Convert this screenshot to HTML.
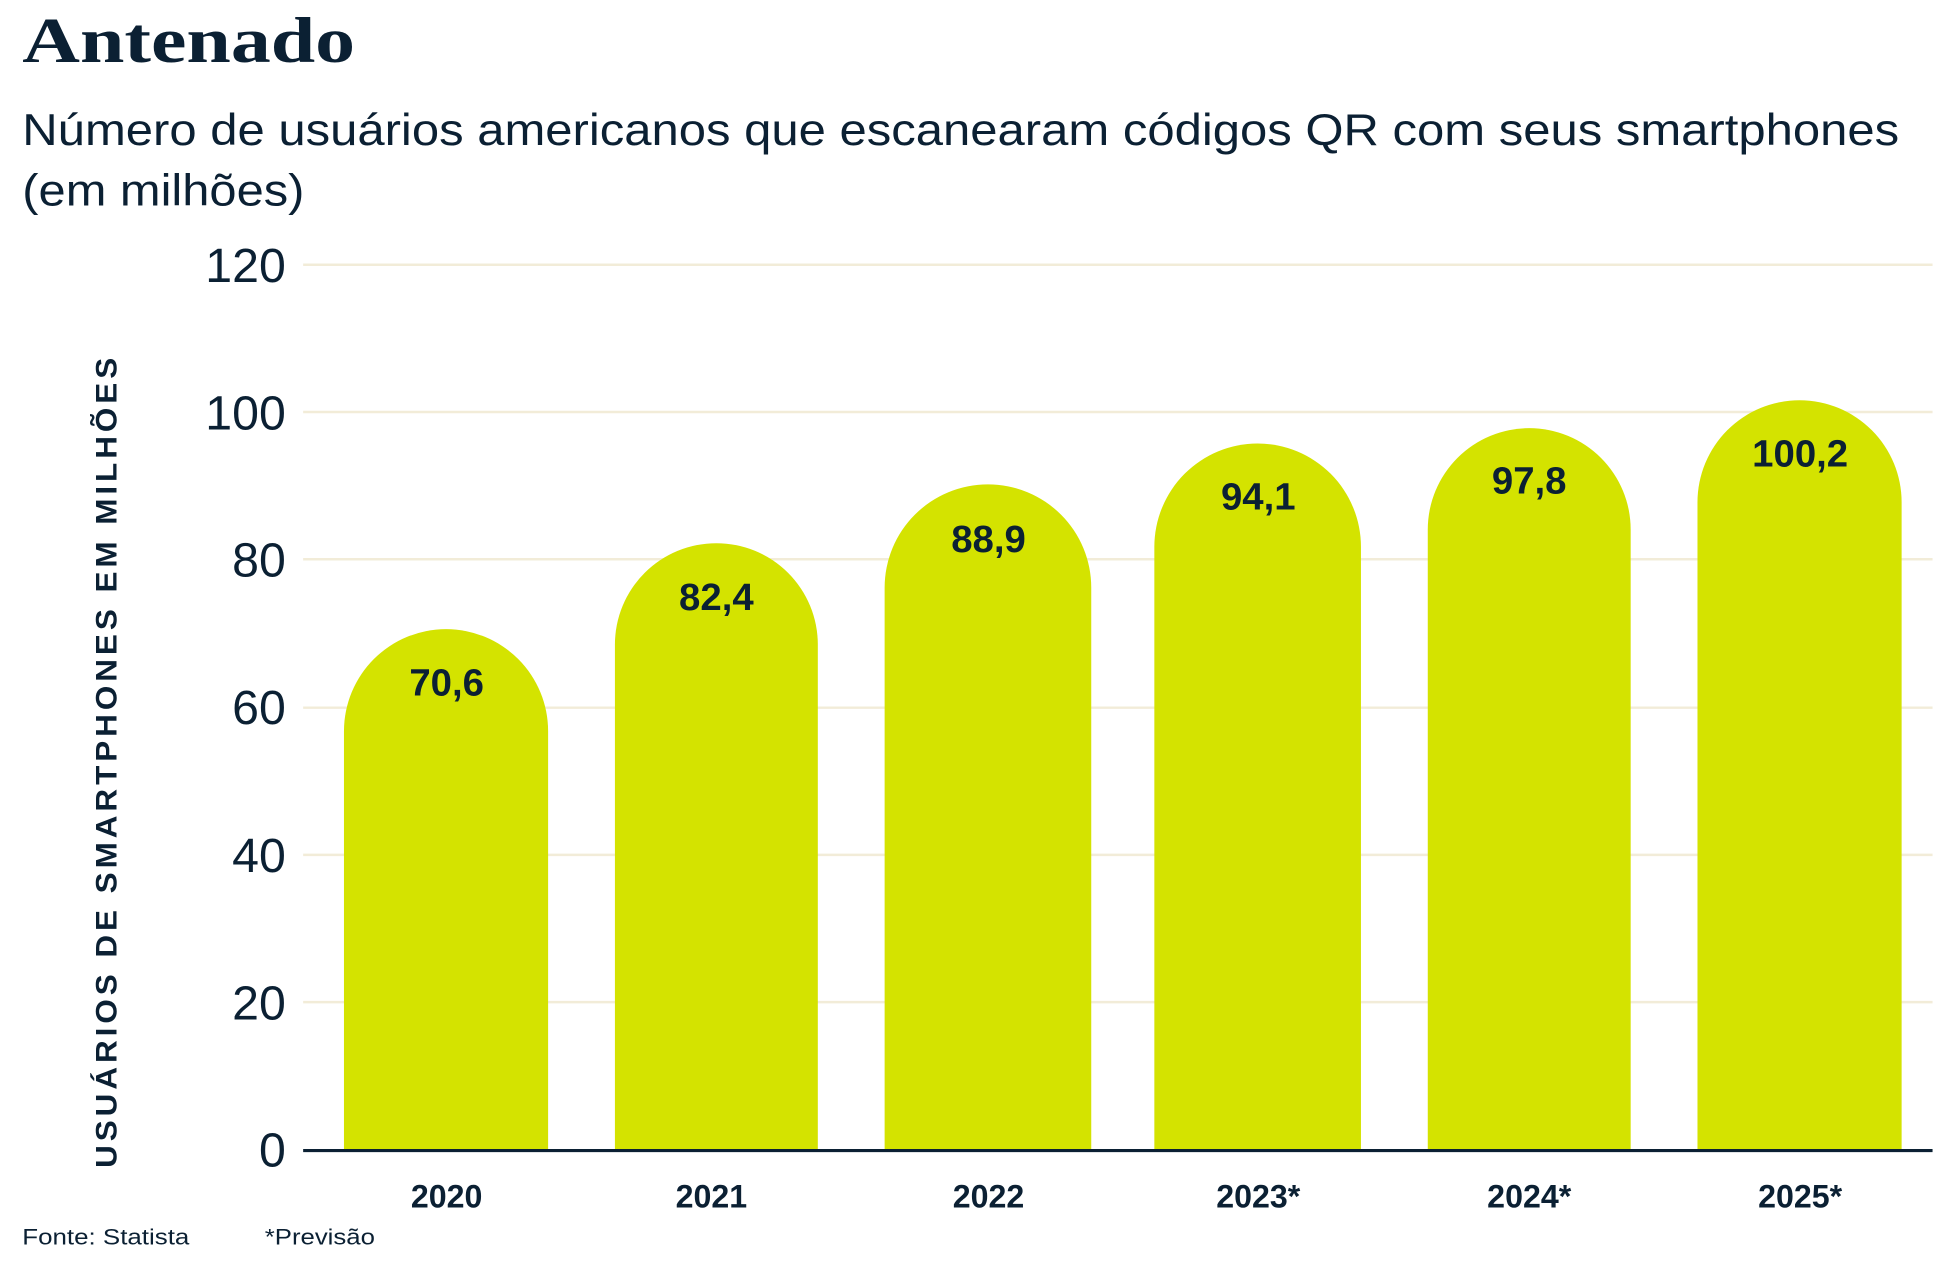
<!DOCTYPE html>
<html><head><meta charset="utf-8"><style>html,body{margin:0;padding:0;background:#fff}svg{display:block}</style></head>
<body>
<svg width="1940" height="1282" viewBox="0 0 1568 1036.2" xmlns="http://www.w3.org/2000/svg" font-family="Liberation Sans, sans-serif" fill="#0b2033">
<text x="18" y="50" font-family="Liberation Serif, serif" font-weight="bold" font-size="52" textLength="269" lengthAdjust="spacingAndGlyphs">Antenado</text>
<text x="18" y="117" font-size="36" textLength="1517" lengthAdjust="spacingAndGlyphs">Número de usuários americanos que escanearam códigos QR com seus smartphones</text>
<text x="18" y="166" font-size="36" textLength="228" lengthAdjust="spacingAndGlyphs">(em milhões)</text>
<g stroke="#f2ecd8" stroke-width="2">
<line x1="245" y1="214" x2="1562" y2="214"/><line x1="245" y1="333" x2="1562" y2="333"/>
<line x1="245" y1="452" x2="1562" y2="452"/><line x1="245" y1="572" x2="1562" y2="572"/>
<line x1="245" y1="691" x2="1562" y2="691"/><line x1="245" y1="810" x2="1562" y2="810"/>
</g>
<g font-size="39" text-anchor="end">
<text x="231" y="228">120</text><text x="231" y="347">100</text><text x="231" y="466">80</text>
<text x="231" y="585">60</text><text x="231" y="705">40</text><text x="231" y="824">20</text><text x="231" y="943">0</text>
</g>
<g fill="#d4e300">
<path d="M278,930 V591 A82.5,82.5 0 0 1 443,591 V930Z"/>
<path d="M497,930 V521 A82,82 0 0 1 661,521 V930Z"/>
<path d="M715,930 V475 A83.5,83.5 0 0 1 882,475 V930Z"/>
<path d="M933,930 V442 A83.5,83.5 0 0 1 1100,442 V930Z"/>
<path d="M1154,930 V428 A82,82 0 0 1 1318,428 V930Z"/>
<path d="M1372,930 V406 A82.5,82.5 0 0 1 1537,406 V930Z"/>
</g>
<line x1="245" y1="930" x2="1562" y2="930" stroke="#0b2033" stroke-width="2.5"/>
<g font-size="31" font-weight="bold" text-anchor="middle">
<text x="361" y="562">70,6</text><text x="579" y="493">82,4</text><text x="799" y="446">88,9</text>
<text x="1017" y="412">94,1</text><text x="1236" y="399">97,8</text><text x="1455" y="377">100,2</text>
</g>
<g font-size="26" font-weight="bold" text-anchor="middle">
<text x="361" y="976">2020</text><text x="575" y="976">2021</text><text x="799" y="976">2022</text>
<text x="1017" y="976">2023*</text><text x="1236" y="976">2024*</text><text x="1455" y="976">2025*</text>
</g>
<text transform="translate(94,615) rotate(-90)" text-anchor="middle" font-size="24" font-weight="bold" letter-spacing="3" textLength="658" lengthAdjust="spacingAndGlyphs">USUÁRIOS DE SMARTPHONES EM MILHÕES</text>
<text x="18" y="1006" font-size="18" textLength="135" lengthAdjust="spacingAndGlyphs">Fonte: Statista</text>
<text x="214" y="1006" font-size="18" textLength="89" lengthAdjust="spacingAndGlyphs">*Previsão</text>
</svg>
</body></html>
